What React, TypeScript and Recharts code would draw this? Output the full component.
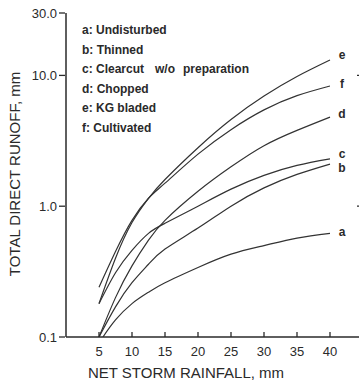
import React from 'react';
import { LineChart, Line, XAxis, YAxis } from 'recharts';

// Net storm rainfall (mm) sample points
const rainfall = [5, 7.5, 10, 12.5, 15, 20, 25, 30, 35, 40];
const rainfallA = [5.6, 7.5, 10, 12.5, 15, 20, 25, 30, 35, 40];

// Total direct runoff (mm) per treatment
const runoffE = [0.18, 0.4, 0.75, 1.15, 1.6, 2.8, 4.6, 6.95, 9.8, 13.1];
const runoffF = [0.24, 0.45, 0.78, 1.15, 1.5, 2.5, 3.85, 5.45, 7.0, 8.3];
const runoffD = [0.1, 0.2, 0.35, 0.55, 0.78, 1.3, 2.0, 2.9, 3.8, 4.8];
const runoffC = [0.18, 0.31, 0.46, 0.62, 0.74, 1.0, 1.35, 1.72, 2.05, 2.3];
const runoffB = [0.1, 0.17, 0.26, 0.36, 0.47, 0.68, 1.0, 1.38, 1.75, 2.1];
const runoffA = [0.1, 0.135, 0.18, 0.22, 0.26, 0.34, 0.43, 0.5, 0.57, 0.62];

const xTicks = [5, 10, 15, 20, 25, 30, 35, 40];
const yTicks = [0.1, 1, 10, 30];
const yInnerTicks = [1, 10];

const legendLines = [
  ['a: Undisturbed'],
  ['b: Thinned'],
  ['c: Clearcut', 'w/o', 'preparation'],
  ['d: Chopped'],
  ['e: KG bladed'],
  ['f: Cultivated'],
];
const legendWordX = [82, 155, 183];

const xLabel = 'NET STORM RAINFALL, mm';
const yLabel = 'TOTAL DIRECT RUNOFF, mm';

const toSeries = (xs: number[], ys: number[]) => xs.map((x, i) => ({ x, y: ys[i] }));

const series = [
  { key: 'e', data: toSeries(rainfall, runoffE), dy: -1 },
  { key: 'f', data: toSeries(rainfall, runoffF), dy: 2 },
  { key: 'd', data: toSeries(rainfall, runoffD), dy: 1 },
  { key: 'c', data: toSeries(rainfall, runoffC), dy: -1 },
  { key: 'b', data: toSeries(rainfall, runoffB), dy: 8 },
  { key: 'a', data: toSeries(rainfallA, runoffA), dy: 3 },
];

const INK = '#2a2a2a';
const FONT = '"Liberation Sans", Arial, sans-serif';

const BottomTick = (props: any) => {
  const { x, y, payload } = props;
  return (
    <g>
      <line x1={x} y1={y} x2={x} y2={y - 5} stroke={INK} strokeWidth={1.3} />
      <text x={x} y={y + 19} textAnchor="middle" fontSize={13} fontFamily={FONT} fill={INK}>
        {payload.value}
      </text>
    </g>
  );
};

const TopTick = (props: any) => {
  const { x, y } = props;
  return <line x1={x} y1={y} x2={x} y2={y + 5} stroke={INK} strokeWidth={1.3} />;
};

const RightTick = (props: any) => {
  const { x, y } = props;
  return <line x1={x} y1={y} x2={x - 6} y2={y} stroke={INK} strokeWidth={1.3} />;
};

const LeftTick = (props: any) => {
  const { x, y, payload } = props;
  return (
    <g>
      <line x1={x + 1} y1={y} x2={x + 7} y2={y} stroke={INK} strokeWidth={1.3} />
      <text x={x - 1} y={y + 5} textAnchor="end" fontSize={13} fontFamily={FONT} fill={INK}>
        {Number(payload.value).toFixed(1)}
      </text>
    </g>
  );
};

const endLabel = (name: string, len: number, dy: number) => (props: any) => {
  const { x, y, index } = props;
  if (index !== len - 1) return null;
  return (
    <text x={x + 12} y={y + dy} textAnchor="middle" fontSize={12} fontWeight="bold" fontFamily={FONT} fill={INK}>
      {name}
    </text>
  );
};

export default function App() {
  return (
    <div style={{ position: 'absolute', left: 0, top: 0, width: 359, height: 381, overflow: 'hidden', background: '#fff' }}>
      <LineChart width={365} height={381} margin={{ top: 13, right: 0, bottom: 0, left: 0 }}>
        <XAxis
          dataKey="x"
          type="number"
          domain={[0, 45]}
          ticks={xTicks}
          allowDuplicatedCategory={false}
          height={44}
          tickSize={0}
          tickMargin={0}
          tick={<BottomTick />}
          axisLine={{ stroke: INK, strokeWidth: 1.5 }}
          tickLine={false}
        />
        <XAxis
          xAxisId="top"
          orientation="top"
          dataKey="x"
          type="number"
          domain={[0, 45]}
          ticks={xTicks}
          height={0}
          tickSize={0}
          tickMargin={0}
          tick={<TopTick />}
          axisLine={{ stroke: INK, strokeWidth: 1.5 }}
          tickLine={false}
        />
        <YAxis
          yAxisId="left"
          scale="log"
          domain={[0.1, 30]}
          ticks={yTicks}
          allowDataOverflow
          width={66}
          tickSize={0}
          tickMargin={8}
          tick={<LeftTick />}
          axisLine={{ stroke: INK, strokeWidth: 1.5 }}
          tickLine={false}
        />
        <YAxis
          yAxisId="right"
          orientation="right"
          scale="log"
          domain={[0.1, 30]}
          ticks={yInnerTicks}
          allowDataOverflow
          width={2}
          tickSize={0}
          tickMargin={0}
          tick={<RightTick />}
          axisLine={{ stroke: INK, strokeWidth: 1.5 }}
          tickLine={false}
        />
        {series.map((s) => (
          <Line
            key={s.key}
            yAxisId="left"
            data={s.data}
            dataKey="y"
            type="natural"
            stroke="#333"
            strokeWidth={1.2}
            dot={false}
            isAnimationActive={false}
            label={endLabel(s.key, s.data.length, s.dy)}
          />
        ))}
        <g fontFamily={FONT} fill={INK}>
          {legendLines.map((words, i) => (
            <text key={i} y={34 + i * 19.6} fontSize={12} fontWeight="bold">
              {words.map((w, j) => (
                <tspan key={j} x={legendWordX[j]}>
                  {w}
                </tspan>
              ))}
            </text>
          ))}
          <text x={186} y={378} textAnchor="middle" fontSize={15}>
            {xLabel}
          </text>
          <text x={20} y={174} textAnchor="middle" fontSize={15} transform="rotate(-90 20 174)">
            {yLabel}
          </text>
        </g>
      </LineChart>
    </div>
  );
}
